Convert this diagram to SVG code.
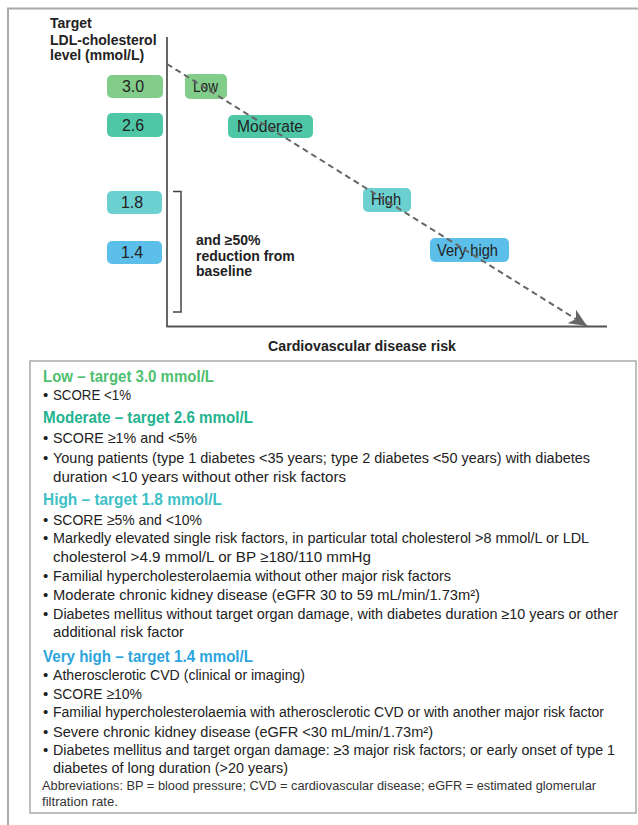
<svg xmlns="http://www.w3.org/2000/svg" width="638" height="825" viewBox="0 0 638 825">
<style>
text{font-family:"Liberation Sans",Arial,sans-serif;fill:#222}
.ax{font-weight:bold;font-size:14px}
.num{font-size:16px;text-anchor:middle}
.lbl{font-size:16px;text-anchor:middle}
.b{font-size:15px}
.s{font-size:14px}
.t{font-size:16px;font-weight:bold}
.ab{font-size:12px;fill:#333}
</style>
<defs>
<marker id="arr" markerUnits="userSpaceOnUse" markerWidth="20" markerHeight="16" refX="18" refY="8" orient="auto">
<path d="M0,0 L18,8 L0,16 L5,8 Z" fill="#666"/>
</marker>
</defs>
<rect width="638" height="825" fill="#fff"/>
<g id="frame" fill="none" stroke="#aaa" stroke-width="2">
<path d="M8,825 V8.5 H638"/>
</g>
<g id="axes" stroke-linecap="butt">
<line x1="167" y1="37" x2="167" y2="327" stroke="#333" stroke-width="1.5"/>
<line x1="166.5" y1="326.5" x2="607" y2="326.5" stroke="#555" stroke-width="2"/>
</g>
<g id="axis-titles">
<text class="ax" x="50" y="28">Target</text>
<text class="ax" x="50" y="45">LDL-cholesterol</text>
<text class="ax" x="50" y="60">level (mmol/L)</text>
<text class="ax" x="268" y="351" textLength="188" lengthAdjust="spacingAndGlyphs">Cardiovascular disease risk</text>
</g>
<g id="v30"><rect x="107" y="75" width="56" height="23" rx="5" fill="#83cd8a"/><text class="num" x="133" y="92">3.0</text></g>
<g id="v26"><rect x="107" y="113" width="56" height="24" rx="5" fill="#4fc7a7"/><text class="num" x="133" y="130.5">2.6</text></g>
<g id="v18"><rect x="107" y="191" width="55" height="23" rx="5" fill="#6dd0d0"/><text class="num" x="132" y="208">1.8</text></g>
<g id="v14"><rect x="107" y="241" width="55" height="23" rx="5" fill="#5bbfe9"/><text class="num" x="132" y="258">1.4</text></g>
<g id="bracket">
<path d="M173,191.5 H181 V312 H173" fill="none" stroke="#444" stroke-width="1.5"/>
<text class="ax" x="196" y="245">and ≥50%</text>
<text class="ax" x="196" y="261">reduction from</text>
<text class="ax" x="196" y="276">baseline</text>
</g>
<g id="low"><rect x="185" y="74" width="42" height="25" rx="5" fill="#83cd8a"/><text class="lbl" x="205.5" y="92" textLength="25" lengthAdjust="spacingAndGlyphs">Low</text></g>
<g id="moderate"><rect x="228" y="115" width="85" height="23" rx="5" fill="#4fc7a7"/><text class="lbl" x="270" y="132" textLength="66" lengthAdjust="spacingAndGlyphs">Moderate</text></g>
<g id="high"><rect x="363" y="188" width="48" height="24" rx="5" fill="#6dd0d0"/><text class="lbl" x="386" y="205" textLength="30" lengthAdjust="spacingAndGlyphs">High</text></g>
<g id="veryhigh"><rect x="430" y="238" width="79" height="24" rx="5" fill="#5bbfe9"/><text class="lbl" x="467.5" y="255.5" textLength="61" lengthAdjust="spacingAndGlyphs">Very high</text></g>
<g id="connectors">
<line x1="167" y1="64" x2="587" y2="326" stroke="#666" stroke-width="2" stroke-dasharray="6,4" marker-end="url(#arr)"/>
</g>
<g id="legend">
<rect x="30" y="361" width="606" height="452" fill="none" stroke="#aaa" stroke-width="1.5"/>
<text class="t" x="43" y="382" textLength="171" lengthAdjust="spacingAndGlyphs" style="fill:#4fbf6f">Low – target 3.0 mmol/L</text>
<text class="b" x="43" y="400">•</text><text class="b" x="53" y="400" textLength="78" lengthAdjust="spacingAndGlyphs">SCORE &lt;1%</text>
<text class="t" x="43" y="423" textLength="210" lengthAdjust="spacingAndGlyphs" style="fill:#22b38e">Moderate – target 2.6 mmol/L</text>
<text class="b" x="43" y="443">•</text><text class="b" x="53" y="443" textLength="144" lengthAdjust="spacingAndGlyphs">SCORE ≥1% and &lt;5%</text>
<text class="b" x="43" y="463">•</text><text class="s" x="53" y="463" textLength="537" lengthAdjust="spacingAndGlyphs">Young patients (type 1 diabetes &lt;35 years; type 2 diabetes &lt;50 years) with diabetes</text>
<text class="b" x="53" y="482" textLength="293" lengthAdjust="spacingAndGlyphs">duration &lt;10 years without other risk factors</text>
<text class="t" x="43" y="505" textLength="179" lengthAdjust="spacingAndGlyphs" style="fill:#3dbfc6">High – target 1.8 mmol/L</text>
<text class="b" x="43" y="525">•</text><text class="b" x="53" y="525" textLength="149" lengthAdjust="spacingAndGlyphs">SCORE ≥5% and &lt;10%</text>
<text class="b" x="43" y="543">•</text><text class="s" x="53" y="543" textLength="536" lengthAdjust="spacingAndGlyphs">Markedly elevated single risk factors, in particular total cholesterol &gt;8 mmol/L or LDL</text>
<text class="b" x="53" y="562" textLength="318" lengthAdjust="spacingAndGlyphs">cholesterol &gt;4.9 mmol/L or BP ≥180/110 mmHg</text>
<text class="b" x="43" y="581">•</text><text class="b" x="53" y="581" textLength="398" lengthAdjust="spacingAndGlyphs">Familial hypercholesterolaemia without other major risk factors</text>
<text class="b" x="43" y="600">•</text><text class="b" x="53" y="600" textLength="427" lengthAdjust="spacingAndGlyphs">Moderate chronic kidney disease (eGFR 30 to 59 mL/min/1.73m²)</text>
<text class="b" x="43" y="619">•</text><text class="s" x="53" y="619" textLength="565" lengthAdjust="spacingAndGlyphs">Diabetes mellitus without target organ damage, with diabetes duration ≥10 years or other</text>
<text class="b" x="53" y="637" textLength="131" lengthAdjust="spacingAndGlyphs">additional risk factor</text>
<text class="t" x="43" y="662" textLength="210" lengthAdjust="spacingAndGlyphs" style="fill:#2ca5dd">Very high – target 1.4 mmol/L</text>
<text class="b" x="43" y="680">•</text><text class="b" x="53" y="680" textLength="252" lengthAdjust="spacingAndGlyphs">Atherosclerotic CVD (clinical or imaging)</text>
<text class="b" x="43" y="699">•</text><text class="b" x="53" y="699" textLength="89" lengthAdjust="spacingAndGlyphs">SCORE ≥10%</text>
<text class="b" x="43" y="717">•</text><text class="s" x="53" y="717" textLength="551" lengthAdjust="spacingAndGlyphs">Familial hypercholesterolaemia with atherosclerotic CVD or with another major risk factor</text>
<text class="b" x="43" y="737">•</text><text class="b" x="53" y="737" textLength="380" lengthAdjust="spacingAndGlyphs">Severe chronic kidney disease (eGFR &lt;30 mL/min/1.73m²)</text>
<text class="b" x="43" y="755">•</text><text class="s" x="53" y="755" textLength="562" lengthAdjust="spacingAndGlyphs">Diabetes mellitus and target organ damage: ≥3 major risk factors; or early onset of type 1</text>
<text class="b" x="53" y="773" textLength="235" lengthAdjust="spacingAndGlyphs">diabetes of long duration (&gt;20 years)</text>
<text class="ab" x="42" y="790" textLength="554" lengthAdjust="spacingAndGlyphs">Abbreviations: BP = blood pressure; CVD = cardiovascular disease; eGFR = estimated glomerular</text>
<text class="ab" x="42" y="806" textLength="76" lengthAdjust="spacingAndGlyphs">filtration rate.</text>
</g>
</svg>
